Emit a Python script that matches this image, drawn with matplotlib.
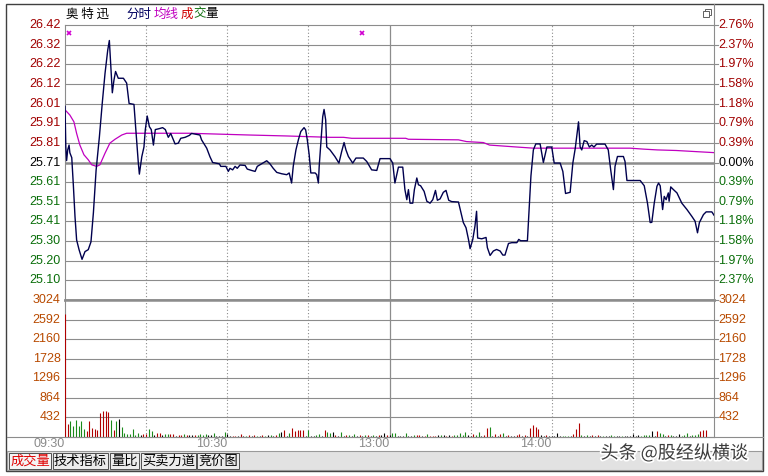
import matplotlib
matplotlib.use('Agg')
import matplotlib.pyplot as plt
import matplotlib.patheffects as pe
from matplotlib.lines import Line2D
from matplotlib.patches import Rectangle

# ---- data ----
prev_close = 25.71
top_price = 26.42

price_labels = ['26.42', '26.32', '26.22', '26.12', '26.01', '25.91', '25.81',
                '25.71', '25.61', '25.51', '25.41', '25.30', '25.20', '25.10']
pct_labels = ['2.76%', '2.37%', '1.97%', '1.58%', '1.18%', '0.79%', '0.39%',
              '0.00%', '0.39%', '0.79%', '1.18%', '1.58%', '1.97%', '2.37%']
vol_labels = ['3024', '2592', '2160', '1728', '1296', '864', '432']
vol_step = 432

time_ticks = [0, 60, 120, 180]
time_labels = ['09:30', '10:30', '13:00', '14:00']

# price line vertices (minutes after 09:30, price)
price_t = [0, 0.3, 0.6, 1.0, 1.5, 1.8, 2.5, 3.1, 3.7, 4.3,
           5.2, 6.3, 7.4, 8.6, 9.6, 10.5, 11.5, 12.7, 13.8, 14.8,
           15.8, 16.4, 16.9, 17.5, 18.1, 18.7, 19.7, 21.6, 22.8, 23.7,
           25.5, 26.3, 27.1, 27.5, 28.4, 29.2, 29.7, 30.4, 31.2, 31.9,
           32.7, 33.4, 34.9, 36.1, 37.1, 38.2, 39.1, 40.7, 41.9, 42.8,
           44.4, 46.0, 46.8, 49.9, 50.5, 52.4, 53.6, 54.6, 57.1, 57.6,
           59.5, 60.4, 61.0, 62.0, 62.9, 63.7, 64.7, 66.6, 67.4, 69.0,
           70.3, 71.1, 72.7, 74.6, 75.8, 77.0, 78.3, 80.1, 82.0, 82.9,
           83.8, 84.4, 85.4, 86.3, 87.2, 88.4, 89.0, 89.6, 90.3, 90.9,
           92.5, 93.1, 93.7, 94.0, 94.7, 95.3, 95.8, 96.4, 96.8, 98.0,
           99.8, 101.3, 102.3, 103.2, 103.9, 104.8, 106.4, 107.6, 110.3, 111.6,
           113.4, 115.3, 116.5, 120.2, 121.2, 122.0, 123.3, 124.9, 125.7, 126.4,
           127.0, 127.6, 128.6, 129.2, 130.1, 130.7, 131.5, 132.8, 133.8, 135.0,
           136.0, 137.0, 137.7, 138.7, 139.9, 140.9, 141.9, 143.0, 145.5, 146.3,
           147.3, 148.3, 149.2, 149.8, 150.8, 151.6, 152.2, 152.6, 154.1, 155.7,
           156.2, 157.2, 158.4, 159.6, 160.9, 161.9, 162.7, 164.0, 165.2, 167.1,
           167.8, 168.5, 171.0, 171.7, 172.3, 173.2, 174.1, 175.7, 176.9, 178.2,
           180.0, 180.9, 183.1, 184.1, 185.1, 186.8, 187.8, 188.7, 189.9, 190.5,
           191.1, 192.0, 193.0, 193.9, 194.8, 195.6, 196.6, 199.7, 200.9, 201.8,
           202.8, 203.4, 204.3, 206.5, 207.1, 207.8, 212.7, 214.2, 215.4, 216.4,
           217.0, 217.9, 218.9, 219.5, 220.1, 221.0, 221.6, 222.3, 223.1, 223.4,
           224.0, 225.0, 226.3, 228.1, 230.0, 231.8, 233.0, 233.9, 234.6, 236.1,
           237.1, 239.2, 240]
price_p = [26.00, 25.79, 25.72, 25.775, 25.80, 25.76, 25.735, 25.59, 25.43, 25.31,
           25.26, 25.21, 25.25, 25.26, 25.30, 25.45, 25.67, 25.84, 26.02, 26.17,
           26.29, 26.34, 26.22, 26.07, 26.135, 26.18, 26.145, 26.145, 26.12, 26.015,
           26.01, 25.86, 25.71, 25.65, 25.74, 25.79, 25.88, 25.95, 25.895, 25.88,
           25.80, 25.88, 25.885, 25.89, 25.88, 25.84, 25.86, 25.806, 25.81, 25.835,
           25.84, 25.85, 25.86, 25.852, 25.827, 25.784, 25.74, 25.71, 25.703, 25.69,
           25.69, 25.664, 25.68, 25.672, 25.69, 25.68, 25.697, 25.695, 25.676, 25.669,
           25.664, 25.69, 25.703, 25.719, 25.703, 25.68, 25.659, 25.652, 25.647, 25.656,
           25.604, 25.69, 25.775, 25.827, 25.87, 25.89, 25.878, 25.827, 25.75, 25.656,
           25.656, 25.647, 25.604, 25.69, 25.827, 25.946, 25.984, 25.93, 25.79, 25.775,
           25.741, 25.707, 25.766, 25.813, 25.775, 25.741, 25.707, 25.733, 25.733, 25.715,
           25.672, 25.669, 25.73, 25.73, 25.707, 25.604, 25.686, 25.686, 25.57, 25.518,
           25.57, 25.50, 25.50, 25.57, 25.63, 25.595, 25.59, 25.561, 25.51, 25.50,
           25.518, 25.566, 25.515, 25.522, 25.556, 25.566, 25.515, 25.508, 25.506, 25.458,
           25.40, 25.373, 25.313, 25.265, 25.313, 25.381, 25.458, 25.32, 25.316, 25.323,
           25.27, 25.23, 25.253, 25.261, 25.253, 25.232, 25.232, 25.292, 25.296, 25.296,
           25.313, 25.306, 25.306, 25.484, 25.64, 25.775, 25.806, 25.806, 25.71, 25.79,
           25.79, 25.707, 25.707, 25.664, 25.55, 25.556, 25.707, 25.784, 25.92, 25.79,
           25.775, 25.823, 25.818, 25.79, 25.80, 25.79, 25.805, 25.805, 25.775, 25.672,
           25.57, 25.69, 25.741, 25.741, 25.715, 25.617, 25.617, 25.59, 25.50, 25.40,
           25.401, 25.50, 25.587, 25.604, 25.59, 25.467, 25.535, 25.518, 25.553, 25.51,
           25.584, 25.57, 25.553, 25.50, 25.467, 25.432, 25.407, 25.347, 25.40, 25.441,
           25.455, 25.455, 25.438]

# average price line vertices
avg_t = [0.4, 1.8, 3.3, 4.3, 5.5, 7.0, 8.6, 9.9, 11.7, 12.9, 14.8, 16.6, 18.5,
         21.0, 22.8, 46, 68, 82, 98, 103, 106, 126, 127, 145.5, 148.5, 154.7,
         157, 167, 173.2, 209, 214, 219, 226, 233.6, 240]
avg_p = [25.976, 25.955, 25.92, 25.86, 25.80, 25.75, 25.724, 25.698, 25.69,
         25.698, 25.758, 25.81, 25.83, 25.852, 25.861, 25.861, 25.852, 25.847,
         25.84, 25.84, 25.835, 25.835, 25.83, 25.827, 25.818, 25.813, 25.80,
         25.79, 25.784, 25.784, 25.779, 25.775, 25.772, 25.766, 25.761]

# per-minute volume and direction (r up, g down, k flat)
volume = [2720, 280, 350, 250, 365, 240, 350, 180, 135, 345,
          190, 175, 155, 540, 580, 580, 550, 365, 150, 345,
          390, 220, 90, 65, 70, 170, 40, 95, 45, 70,
          70, 170, 130, 40, 85, 85, 35, 60, 65, 70,
          65, 30, 40, 40, 65, 55, 40, 45, 40, 55,
          65, 40, 65, 35, 35, 95, 30, 30, 30, 110,
          70, 30, 30, 30, 30, 70, 30, 25, 35, 30,
          40, 25, 30, 45, 30, 35, 40, 30, 50, 85,
          110, 160, 30, 90, 190, 140, 160, 160, 160, 30,
          150, 25, 30, 40, 70, 30, 160, 100, 85, 120,
          50, 30, 100, 30, 35, 50, 30, 65, 30, 40,
          30, 35, 40, 30, 45, 30, 35, 40,
          80, 40, 40, 95, 80, 30, 30, 30, 90, 30,
          30, 40, 40, 40, 30, 30, 65, 30, 30, 30,
          40, 40, 40, 30, 40, 30, 40, 40, 80, 50,
          110, 40, 30, 65, 40, 100, 30, 40, 197, 220,
          30, 60, 30, 60, 90, 30, 35, 30, 30, 35,
          75, 30, 35, 30, 200, 265, 225, 170, 35, 30,
          35, 30, 30, 30, 90, 30, 30, 30, 30, 25,
          65, 170, 315, 50, 30, 35, 25, 35, 30, 35,
          30, 30, 30, 25, 35, 30, 30, 25, 30, 30,
          30, 30, 60, 25, 40, 30, 50, 45, 50, 130,
          30, 130, 80, 65, 30, 40, 50, 30, 30, 60,
          30, 50, 80, 30, 40, 50, 60, 140, 160, 160]
vol_dir = ('rrggggggrr' 'rrrrrrrgrg' 'kgggggggkr' 'rggkrrkggr' 'rkrrgrkkrg'
           'gggkkgkkkg' 'kkrrkrkgrk' 'rgkrgkgkrg' 'krkgrrrrrk' 'gkkggkrggk'
           'rkgkrgkgkr' 'kgrkgkrk'
           'krkggkkkgk' 'kgrrkrgrrr' 'kgkrkrgggg' 'gkkrggkrrg' 'krkrgkrkkr'
           'rkrkrrrrkk' 'rkkkkkgggk' 'rrrgkgkrkr' 'kgkkggkkgk' 'kkkkkggggk'
           'krggkrgkkk' 'gggkgggrrr')

marker_t = [1.5, 109.8]

tab_names = ['成交量', '技术指标', '量比', '买卖力道', '竞价图']

# ---- styling ----
W, H = 768, 476
GRID = '#8c8c8c'
RED = '#a00000'
GREEN = '#0a6e0a'
VOLC = '#b84a00'
NUM_FONT = 'Liberation Sans'
CJK = ['Noto Sans CJK SC', 'DejaVu Sans']
bar_colors = {'r': '#b00000', 'g': '#1a8a1a', 'k': '#000000'}


def fx(x):
    return x / W


def fy(y):
    return 1 - y / H


def fig_line(x0, y0, x1, y1, color=GRID, lw=0.8):
    fig.add_artist(Line2D([fx(x0), fx(x1)], [fy(y0), fy(y1)],
                          transform=fig.transFigure, color=color, lw=lw))


fig = plt.figure(figsize=(W / 100, H / 100), dpi=100)
fig.patch.set_facecolor('white')

ax = fig.add_axes([fx(65), fy(300), fx(714) - fx(65), fy(25) - fy(300)])
axv = fig.add_axes([fx(65), fy(437), fx(714) - fx(65), fy(300) - fy(437)])

step = (top_price - prev_close) / 7
levels = [prev_close + k * step for k in range(7, -7, -1)]

for a in (ax, axv):
    a.set_xlim(0, 240)
    a.set_xticks([])
    a.set_yticks([])
    for s in a.spines.values():
        s.set_color(GRID)
        s.set_linewidth(0.8)
    for t in [30, 60, 90, 150, 180, 210]:
        a.axvline(t, color=GRID, lw=0.8, ls=(0, (1, 2)), zorder=1)
    a.axvline(120, color=GRID, lw=0.9, zorder=1)

# price panel
ax.set_ylim(prev_close - 7 * step, prev_close + 7 * step)
for i, lvl in enumerate(levels):
    k = 7 - i
    lw = 1.8 if k == 0 else 0.8
    if k != 7:
        ax.axhline(lvl, color=GRID, lw=lw, zorder=1)
    col = RED if k > 0 else ('black' if k == 0 else GREEN)
    ax.text(-0.007, lvl, price_labels[i], transform=ax.get_yaxis_transform(),
            ha='right', va='center', color=col, fontsize=9, family=NUM_FONT)
    ax.text(1.007, lvl, pct_labels[i], transform=ax.get_yaxis_transform(),
            ha='left', va='center', color=col, fontsize=9, family=NUM_FONT)
    ax.plot([1.0, 1.006], [lvl, lvl], transform=ax.get_yaxis_transform(),
            color=GRID, lw=0.8, clip_on=False)
ax.spines['bottom'].set_linewidth(1.8)

ax.plot(avg_t, avg_p, color='#c000c0', lw=0.9, zorder=3)
ax.plot(price_t, price_p, color='#00004e', lw=1.0, zorder=4)
ax.plot(marker_t, [0.971] * len(marker_t), transform=ax.get_xaxis_transform(),
        ls='none', marker='x', ms=3.5, mew=1.2, color='#d000d0', zorder=5)

# volume panel
axv.set_ylim(0, vol_step * 7)
axv.spines['top'].set_linewidth(1.8)
for i, lab in enumerate(vol_labels):
    v = vol_step * (7 - i)
    if i > 0:
        axv.axhline(v, color=GRID, lw=0.8, zorder=1)
    axv.text(-0.007, v, lab, transform=axv.get_yaxis_transform(),
             ha='right', va='center', color=VOLC, fontsize=9, family=NUM_FONT)
    axv.text(1.007, v, lab, transform=axv.get_yaxis_transform(),
             ha='left', va='center', color=VOLC, fontsize=9, family=NUM_FONT)
    axv.plot([1.0, 1.006], [v, v], transform=axv.get_yaxis_transform(),
             color=GRID, lw=0.8, clip_on=False)

axv.vlines(range(len(volume)), 0, volume,
           colors=[bar_colors[d] for d in vol_dir], lw=0.8, zorder=3)

# time labels
for t, lab in zip(time_ticks, time_labels):
    axv.text(t, fy(444), lab, transform=axv.get_xaxis_transform().__class__(
        axv.transData, fig.transFigure), ha='right', va='center',
        color='#8a8a8a', fontsize=9, family=NUM_FONT)

# frame lines
fig_line(7, 437, 763, 437)
fig_line(714, 4, 714, 25)
fig.add_artist(Rectangle((fx(6), fy(471)), fx(763) - fx(6), fy(4) - fy(471),
                         transform=fig.transFigure, fill=False,
                         ec='#404040', lw=1.0))

# tab strip
fig.add_artist(Rectangle((fx(7), fy(470)), fx(762) - fx(7), fy(451) - fy(470),
                         transform=fig.transFigure, fc='#e2e2e2', ec='#9a9a9a',
                         lw=0.8))
tab_edges = [(9, 51), (53, 108), (110, 139), (141, 196), (197, 239)]
for i, (name, (x0, x1)) in enumerate(zip(tab_names, tab_edges)):
    fig.add_artist(Rectangle((fx(x0), fy(469)), fx(x1) - fx(x0),
                             fy(453) - fy(469), transform=fig.transFigure,
                             fc='#f4f4f4' if i == 0 else '#ececec',
                             ec='#505050', lw=0.7))
    fig.text(fx((x0 + x1) / 2), fy(461), name, ha='center', va='center',
             fontsize=9.5, family=CJK,
             color='#e00000' if i == 0 else 'black')

# title row
title_parts = [(66, '奥 特 迅', 'black'), (126, '分时', '#000060'),
               (154, '均线', '#c000c0'), (181, '成', '#d00000'),
               (193, '交', '#107010'), (205, '量', 'black')]
for x, txt, col in title_parts:
    fig.text(fx(x), fy(14), txt, ha='left', va='center', fontsize=9,
             family=CJK, color=col)

# restore icon
fig.add_artist(Rectangle((fx(705), fy(15)), fx(6), fy(0) - fy(6),
                         transform=fig.transFigure, fc='white', ec='#606060',
                         lw=0.7))
fig.add_artist(Rectangle((fx(703), fy(17)), fx(6), fy(0) - fy(6),
                         transform=fig.transFigure, fc='white', ec='#606060',
                         lw=0.7))

# watermark
fig.text(fx(674), fy(453), '头条 @股经纵横谈', ha='center', va='center',
         fontsize=13, family=CJK, color='#3c3c3c',
         path_effects=[pe.withStroke(linewidth=2.5, foreground='white')])

fig.savefig('out.png', dpi=100)
